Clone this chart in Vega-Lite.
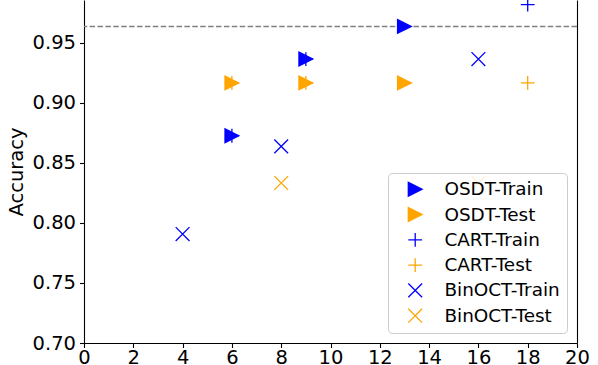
{
  "$schema": "https://vega.github.io/schema/vega-lite/v6.json",
  "width": 493,
  "height": 343,
  "autosize": {"type": "none"},
  "padding": {"left": 84, "top": 0, "right": 21, "bottom": 22},
  "background": "white",
  "config": {
    "view": {"stroke": null},
    "font": "DejaVu Sans",
    "axis": {
      "grid": false,
      "domainColor": "black",
      "domainWidth": 1.1,
      "tickColor": "black",
      "tickWidth": 1.1,
      "tickSize": 4.5,
      "labelFontSize": 19.5,
      "labelColor": "black",
      "labelFont": "DejaVu Sans",
      "titleFont": "DejaVu Sans",
      "titleFontSize": 19.5,
      "titleFontWeight": "normal",
      "titleColor": "black"
    },
    "legend": {
      "orient": "none",
      "legendX": 304,
      "legendY": 173,
      "labelFontSize": 18.4,
      "labelFont": "DejaVu Sans",
      "labelColor": "black",
      "padding": 7,
      "rowPadding": 5.3,
      "symbolOffset": 11,
      "labelOffset": 20,
      "fillColor": "rgba(255,255,255,0.8)",
      "strokeColor": "#cccccc",
      "cornerRadius": 4,
      "symbolStrokeWidth": 1.3,
      "labelLimit": 300
    }
  },
  "layer": [
    {
      "data": {"values": [{"acc": 0.9638}]},
      "mark": {"type": "rule", "color": "#808080", "strokeDash": [5.5, 2.4], "strokeWidth": 1.5},
      "encoding": {
        "y": {
          "field": "acc",
          "type": "quantitative",
          "scale": {"domain": [0.7, 0.9858], "nice": false, "zero": false},
          "axis": {"orient": "right", "labels": false, "ticks": false, "title": null, "domain": true}
        }
      }
    },
    {
      "data": {
        "values": [
          {"series": "OSDT-Train", "leaves": 6, "accuracy": 0.8727},
          {"series": "OSDT-Train", "leaves": 9, "accuracy": 0.9366},
          {"series": "OSDT-Train", "leaves": 13, "accuracy": 0.9638},
          {"series": "OSDT-Test", "leaves": 6, "accuracy": 0.9167},
          {"series": "OSDT-Test", "leaves": 9, "accuracy": 0.9167},
          {"series": "OSDT-Test", "leaves": 13, "accuracy": 0.9167},
          {"series": "CART-Train", "leaves": 6, "accuracy": 0.8727},
          {"series": "CART-Train", "leaves": 9, "accuracy": 0.9366},
          {"series": "CART-Train", "leaves": 18, "accuracy": 0.9819},
          {"series": "CART-Test", "leaves": 6, "accuracy": 0.9167},
          {"series": "CART-Test", "leaves": 9, "accuracy": 0.9167},
          {"series": "CART-Test", "leaves": 18, "accuracy": 0.9167},
          {"series": "BinOCT-Train", "leaves": 4, "accuracy": 0.7908},
          {"series": "BinOCT-Train", "leaves": 8, "accuracy": 0.8638},
          {"series": "BinOCT-Train", "leaves": 16, "accuracy": 0.9366},
          {"series": "BinOCT-Test", "leaves": 8, "accuracy": 0.8333},
          {"series": "BinOCT-Test", "leaves": 16, "accuracy": 0.8333}
        ]
      },
      "mark": {"type": "point", "filled": false, "strokeWidth": 1.3, "opacity": 1},
      "encoding": {
        "x": {
          "field": "leaves",
          "type": "quantitative",
          "scale": {"domain": [0, 20], "nice": false, "zero": false},
          "axis": {"values": [0, 2, 4, 6, 8, 10, 12, 14, 16, 18, 20], "title": null, "labelPadding": 1, "labelFlush": false}
        },
        "y": {
          "field": "accuracy",
          "type": "quantitative",
          "scale": {"domain": [0.7, 0.9858], "nice": false, "zero": false},
          "axis": {"values": [0.7, 0.75, 0.8, 0.85, 0.9, 0.95], "format": ".2f", "title": "Accuracy", "labelPadding": 4, "titlePadding": 6, "labelFlush": false}
        },
        "shape": {
          "field": "series",
          "type": "nominal",
          "scale": {
            "domain": ["OSDT-Train", "OSDT-Test", "CART-Train", "CART-Test", "BinOCT-Train", "BinOCT-Test"],
            "range": ["M-1,-1L1,0L-1,1Z", "M-1,-1L1,0L-1,1Z", "M-1,0L1,0M0,-1L0,1", "M-1,0L1,0M0,-1L0,1", "M-1,-1L1,1M-1,1L1,-1", "M-1,-1L1,1M-1,1L1,-1"]
          },
          "legend": {"title": null, "orient": "none", "legendX": 304, "legendY": 173}
        },
        "fill": {
          "field": "series",
          "type": "nominal",
          "scale": {
            "domain": ["OSDT-Train", "OSDT-Test", "CART-Train", "CART-Test", "BinOCT-Train", "BinOCT-Test"],
            "range": ["#0000ff", "#ffa500", "transparent", "transparent", "transparent", "transparent"]
          },
          "legend": {"title": null, "orient": "none", "legendX": 304, "legendY": 173}
        },
        "stroke": {
          "field": "series",
          "type": "nominal",
          "scale": {
            "domain": ["OSDT-Train", "OSDT-Test", "CART-Train", "CART-Test", "BinOCT-Train", "BinOCT-Test"],
            "range": ["#0000ff", "#ffa500", "#0000ff", "#ffa500", "#0000ff", "#ffa500"]
          },
          "legend": {"title": null, "orient": "none", "legendX": 304, "legendY": 173}
        },
        "size": {
          "field": "series",
          "type": "nominal",
          "scale": {
            "domain": ["OSDT-Train", "OSDT-Test", "CART-Train", "CART-Test", "BinOCT-Train", "BinOCT-Test"],
            "range": [190, 190, 169, 169, 169, 169]
          },
          "legend": {"title": null, "orient": "none", "legendX": 304, "legendY": 173}
        }
      }
    }
  ],
  "resolve": {"axis": {"y": "independent"}}
}
